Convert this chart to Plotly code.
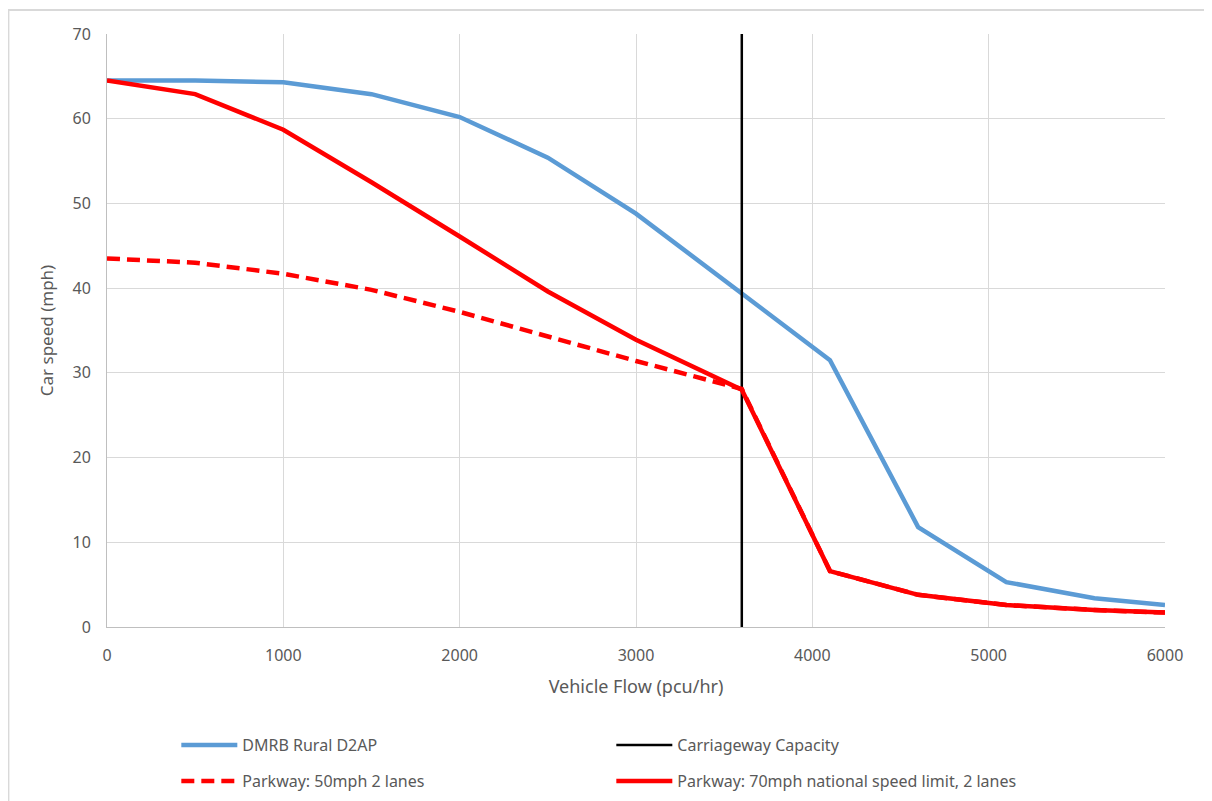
import plotly.graph_objects as go

flow = [0, 500, 1000, 1500, 2000, 2500, 3000, 3600, 4100, 4600, 5100, 5600, 6000]
dmrb = [64.5, 64.5, 64.3, 62.9, 60.2, 55.4, 48.8, 39.4, 31.5, 11.8, 5.3, 3.4, 2.6]
park50 = [43.5, 43.0, 41.7, 39.8, 37.2, 34.3, 31.4, 28.1, 6.6, 3.8, 2.6, 2.0, 1.7]
park70 = [64.5, 62.9, 58.7, 52.5, 46.1, 39.6, 33.9, 28.0, 6.6, 3.8, 2.6, 2.0, 1.7]
cap_x = [3600, 3600]
cap_y = [0, 70]

font_family = "Noto Sans, sans-serif"
grey = "#595959"

fig = go.Figure()
fig.add_trace(go.Scatter(x=flow, y=dmrb, mode="lines", name="DMRB Rural D2AP",
                         line=dict(color="#5b9bd5", width=4.5), legend="legend"))
fig.add_trace(go.Scatter(x=cap_x, y=cap_y, mode="lines", name="Carriageway Capacity",
                         line=dict(color="black", width=2.5), legend="legend"))
fig.add_trace(go.Scatter(x=flow, y=park50, mode="lines", name="Parkway: 50mph 2 lanes",
                         line=dict(color="#ff0000", width=4.5, dash="13px,7px"),
                         legend="legend2"))
fig.add_trace(go.Scatter(x=flow, y=park70, mode="lines",
                         name="Parkway: 70mph national speed limit, 2 lanes",
                         line=dict(color="#ff0000", width=4.5), legend="legend2"))

leg_common = dict(orientation="h", xanchor="left", yanchor="middle",
                  xref="container", yref="container",
                  entrywidth=364, entrywidthmode="pixels", itemwidth=56,
                  font=dict(family=font_family, size=16, color=grey),
                  bgcolor="rgba(0,0,0,0)")

fig.update_layout(
    width=1204, height=793,
    margin=dict(l=99, r=47, t=26, b=174),
    paper_bgcolor="white", plot_bgcolor="white",
    font=dict(family=font_family, size=15, color=grey),
    showlegend=True,
    legend=dict(x=0.1398, y=0.0706, **leg_common),
    legend2=dict(x=0.1398, y=0.0252, **leg_common),
    shapes=[dict(type="rect", xref="paper", yref="paper",
                 x0=-0.0932, x1=1.0406, y0=-0.33, y1=1.0405,
                 line=dict(color="#d9d9d9", width=2), layer="below")],
)
fig.update_xaxes(range=[0, 6000], dtick=1000, showgrid=True, gridcolor="#d9d9d9",
                 gridwidth=1, showline=True, linecolor="#bfbfbf", linewidth=1,
                 zeroline=False, ticks="", ticklabelstandoff=14,
                 tickfont=dict(size=16, color=grey),
                 title=dict(text="Vehicle Flow (pcu/hr)", font=dict(size=18, color=grey),
                            standoff=15))
fig.update_yaxes(range=[0, 70], dtick=10, showgrid=True, gridcolor="#d9d9d9",
                 gridwidth=1, showline=True, linecolor="#bfbfbf", linewidth=1,
                 zeroline=False, ticks="", ticklabelstandoff=12,
                 tickfont=dict(size=16, color=grey),
                 title=dict(text="Car speed (mph)", font=dict(size=17, color=grey),
                            standoff=14))

fig.write_html("out.html")
